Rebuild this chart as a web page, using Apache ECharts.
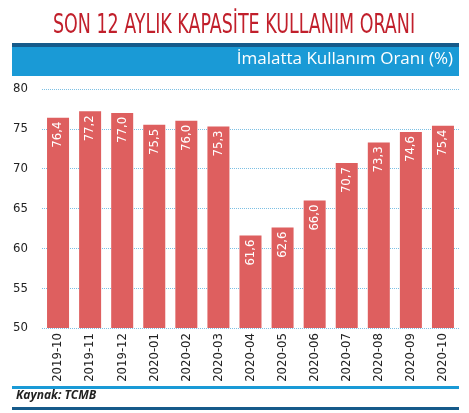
<!DOCTYPE html><html><head><meta charset="utf-8"><script src="https://cdn.jsdelivr.net/npm/echarts@6/dist/echarts.min.js"></script>
<style>html,body{margin:0;padding:0;background:#fff}#c{width:469px;height:413px}</style></head><body><div id="c"></div><script>
const categories=['2019-10','2019-11','2019-12','2020-01','2020-02','2020-03','2020-04','2020-05','2020-06','2020-07','2020-08','2020-09','2020-10'];
const values=[76.4,77.2,77.0,75.5,76.0,75.3,61.6,62.6,66.0,70.7,73.3,74.6,75.4];
const chart=echarts.init(document.getElementById('c'));
chart.setOption({
animation:false,
graphic:[
{type:'text',x:234,y:12,scaleX:0.72,originX:0,style:{text:'SON 12 AYLIK KAPASİTE KULLANIM ORANI',align:'center',font:'27px "DejaVu Sans Condensed",sans-serif',fill:'#c11f2b'}},
{type:'rect',shape:{x:12,y:43,width:447,height:4},style:{fill:'#155a8a'}},
{type:'rect',shape:{x:12,y:47,width:447,height:29},style:{fill:'#1a9ad6'}},
{type:'text',right:16,top:51,style:{text:'İmalatta Kullanım Oranı (%)',font:'17px "Open Sans",sans-serif',fill:'#fff'}},
{type:'rect',shape:{x:12,y:386,width:447,height:3},style:{fill:'#1a9ad6'}},
{type:'text',left:16,top:390,style:{text:'Kaynak: TCMB',font:'italic bold 12px "Open Sans",sans-serif',fill:'#222'}},
{type:'rect',shape:{x:12,y:407,width:447,height:3},style:{fill:'#155a8a'}}
],
grid:{left:42,right:10,top:89,bottom:85},
xAxis:{type:'category',data:categories,axisLine:{show:false},axisTick:{show:false},
axisLabel:{rotate:90,color:'#222',fontSize:13,fontFamily:'"DejaVu Sans Condensed",sans-serif',margin:5}},
yAxis:{type:'value',min:50,max:80,interval:5,
axisLabel:{color:'#222',fontSize:13,fontFamily:'"DejaVu Sans Condensed",sans-serif',margin:14},
splitLine:{lineStyle:{color:'#7cc0e4',type:'dotted'}}},
series:[{type:'bar',data:values,barWidth:22,itemStyle:{color:'#de5f5f'},
label:{show:true,position:'insideTop',rotate:90,align:'right',verticalAlign:'middle',distance:4,color:'#fff',fontSize:13,fontFamily:'"DejaVu Sans Condensed",sans-serif',
formatter:p=>p.value.toFixed(1).replace('.',',')}}]
});
</script></body></html>
